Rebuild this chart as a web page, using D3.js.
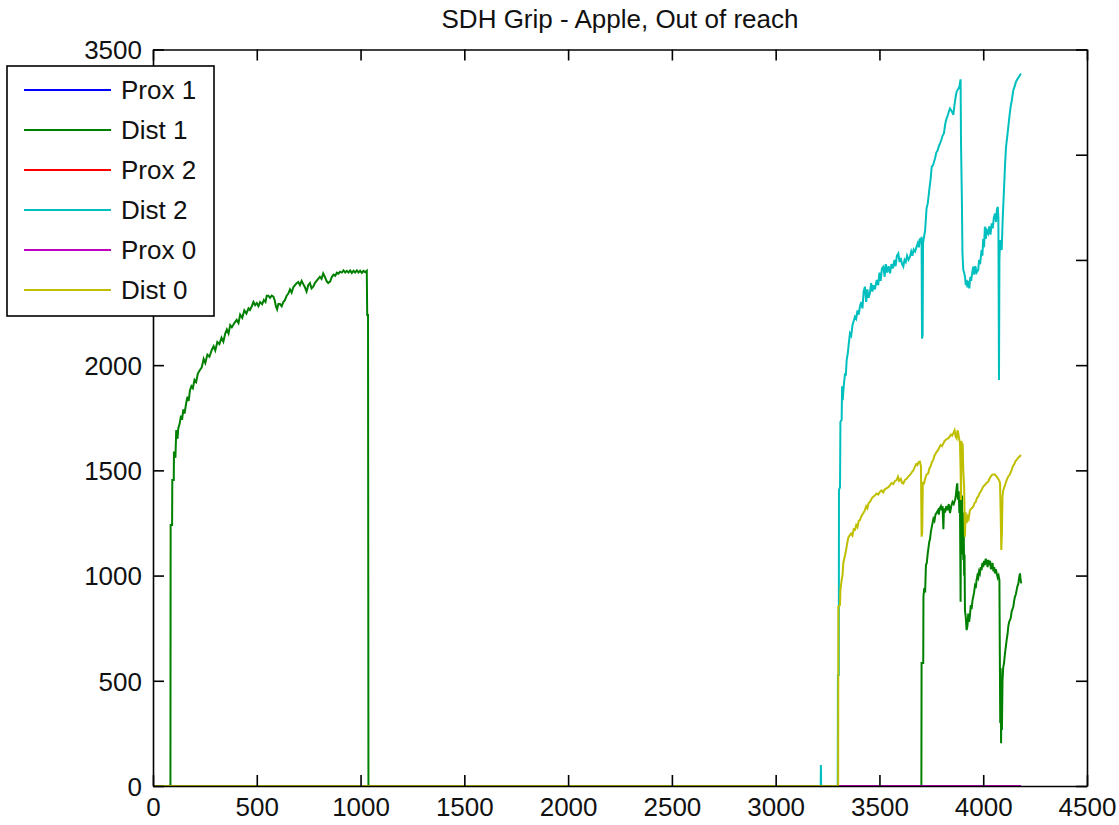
<!DOCTYPE html>
<html>
<head>
<meta charset="utf-8">
<script src="https://cdn.jsdelivr.net/npm/d3@7"></script>
<style>
  html, body { margin: 0; padding: 0; background: #fff; }
  text { font-family: "Liberation Sans", Arial, sans-serif; }
</style>
</head>
<body>
<svg id="chart" width="1119" height="825"></svg>
<script>
const title = "SDH Grip - Apple, Out of reach";
const xTicks = [0, 500, 1000, 1500, 2000, 2500, 3000, 3500, 4000, 4500];
const yTicks = [0, 500, 1000, 1500, 2000, 2500, 3000, 3500];
const seriesNames = ["Prox 1", "Dist 1", "Prox 2", "Dist 2", "Prox 0", "Dist 0"];
const seriesColors = ["#0000ff", "#008000", "#ff0000", "#00bfbf", "#bf00bf", "#bfbf00"];

const prox1 = [[0,0],[4182,0]];
const prox2 = [[0,0],[4182,0]];
const prox0 = [[0,0],[4182,0]];

const dist1 = [[0,0],[84,0],[85,1240],[92,1240],[93,1454],[100,1454],[101,1589],[108,1560],[112,1692],[118,1650],[122,1700],[128,1720],[135,1760],[140,1740],[146,1790],[152,1770],[160,1820],[166,1850],[172,1830],[178,1880],[185,1900],[192,1890],[200,1930],[208,1920],[216,1960],[226,1977],[235,1990],[244,2030],[252,2010],[262,2050],[272,2040],[283,2072],[292,2090],[300,2070],[310,2110],[320,2100],[330,2130],[339,2111],[348,2150],[356,2170],[364,2150],[372,2190],[380,2180],[392,2200],[403,2215],[412,2200],[420,2240],[430,2225],[440,2260],[450,2245],[460,2270],[467,2262],[476,2280],[484,2300],[492,2285],[500,2295],[508,2280],[516,2300],[526,2290],[534,2310],[542,2300],[548,2330],[556,2330],[564,2320],[572,2330],[580,2325],[586,2310],[592,2280],[598,2265],[604,2290],[612,2290],[620,2280],[628,2300],[636,2310],[644,2330],[652,2340],[660,2360],[668,2345],[676,2370],[684,2380],[692,2389],[700,2395],[708,2380],[716,2400],[724,2385],[732,2370],[740,2350],[748,2380],[756,2390],[764,2365],[772,2373],[780,2390],[788,2400],[796,2410],[804,2420],[812,2410],[820,2436],[828,2420],[836,2400],[844,2390],[853,2397],[862,2420],[870,2430],[878,2425],[886,2440],[894,2435],[901,2444],[910,2440],[918,2450],[926,2440],[934,2448],[942,2440],[950,2450],[958,2438],[966,2448],[974,2440],[982,2450],[990,2440],[998,2448],[1006,2438],[1014,2448],[1022,2442],[1030,2449],[1032,2238],[1036,2238],[1038,0],
[3702,0],[3703,584],[3711,584],[3712,900],[3716,940],[3720,920],[3724,1050],[3728,1060],[3732,1100],[3736,1130],[3740,1160],[3744,1175],[3748,1210],[3752,1230],[3756,1250],[3760,1270],[3765,1260],[3770,1290],[3776,1300],[3782,1310],[3786,1290],[3790,1320],[3796,1330],[3800,1310],[3804,1330],[3808,1220],[3811,1320],[3816,1300],[3822,1330],[3828,1310],[3834,1340],[3840,1297],[3846,1330],[3852,1350],[3858,1340],[3864,1359],[3868,1380],[3872,1420],[3875,1438],[3878,1360],[3882,1400],[3885,1297],[3888,1340],[3891,876],[3893,1391],[3896,1100],[3898,1380],[3900,1150],[3902,1300],[3904,1074],[3906,1250],[3908,1000],[3910,1100],[3912,836],[3916,800],[3920,741],[3924,760],[3928,820],[3932,780],[3936,810],[3940,860],[3944,840],[3948,880],[3952,900],[3956,920],[3960,950],[3964,940],[3968,979],[3972,1000],[3976,990],[3980,1020],[3984,1010],[3988,1040],[3992,1026],[3996,1060],[4000,1040],[4004,1070],[4008,1050],[4012,1080],[4017,1066],[4021,1040],[4025,1075],[4029,1050],[4033,1070],[4037,1030],[4041,1042],[4045,1060],[4049,1020],[4053,1040],[4057,1010],[4061,1030],[4065,1010],[4070,990],[4074,1000],[4078,979],[4080,630],[4082,300],[4084,560],[4086,203],[4088,450],[4090,266],[4093,500],[4096,560],[4100,584],[4106,640],[4113,694],[4117,720],[4121,760],[4125,780],[4129,789],[4133,800],[4137,830],[4141,840],[4145,852],[4149,880],[4153,900],[4157,910],[4161,931],[4165,950],[4169,960],[4173,990],[4177,1010],[4180,980],[4183,963]];

const dist2 = [[0,0],[3217,0],[3218,100],[3219,0],[3299,0],[3300,527],[3304,527],[3305,1407],[3310,1420],[3312,1731],[3318,1740],[3320,1900],[3323,1834],[3328,1900],[3334,1961],[3338,1950],[3342,2024],[3348,2060],[3352,2100],[3358,2151],[3364,2140],[3370,2190],[3376,2210],[3382,2230],[3388,2220],[3394,2260],[3400,2240],[3406,2278],[3412,2300],[3418,2270],[3424,2350],[3430,2373],[3436,2300],[3442,2360],[3448,2320],[3454,2342],[3460,2390],[3466,2350],[3472,2380],[3478,2360],[3487,2405],[3494,2380],[3500,2440],[3506,2400],[3512,2460],[3519,2468],[3525,2420],[3531,2480],[3537,2440],[3544,2470],[3551,2436],[3558,2480],[3565,2460],[3572,2500],[3578,2470],[3584,2520],[3591,2531],[3597,2490],[3603,2510],[3609,2480],[3615,2468],[3621,2500],[3627,2490],[3633,2520],[3640,2500],[3647,2515],[3653,2540],[3659,2520],[3665,2550],[3672,2540],[3679,2563],[3685,2580],[3690,2560],[3695,2602],[3700,2580],[3703,2610],[3705,2127],[3708,2140],[3710,2580],[3715,2610],[3720,2640],[3724,2700],[3727,2745],[3733,2770],[3740,2832],[3746,2880],[3752,2943],[3758,2950],[3764,2970],[3768,2983],[3774,3010],[3780,3020],[3786,3040],[3792,3054],[3798,3070],[3804,3090],[3811,3102],[3816,3140],[3820,3160],[3824,3173],[3830,3190],[3836,3210],[3840,3220],[3846,3210],[3852,3200],[3856,3189],[3862,3240],[3868,3280],[3872,3300],[3878,3310],[3885,3323],[3888,3340],[3891,3358],[3893,3054],[3897,2800],[3900,2531],[3904,2452],[3908,2440],[3912,2420],[3916,2380],[3920,2405],[3924,2370],[3928,2400],[3933,2365],[3938,2420],[3942,2400],[3947,2440],[3952,2468],[3957,2430],[3962,2470],[3968,2440],[3976,2452],[3980,2500],[3985,2480],[3992,2547],[3996,2520],[4000,2600],[4004,2560],[4008,2658],[4012,2600],[4018,2640],[4024,2626],[4030,2660],[4035,2620],[4041,2674],[4046,2650],[4051,2700],[4057,2721],[4062,2680],[4066,2740],[4070,2753],[4073,2700],[4076,1929],[4078,2500],[4081,2595],[4085,2560],[4089,2547],[4094,2700],[4100,2832],[4105,2950],[4110,3038],[4115,3080],[4121,3133],[4126,3180],[4132,3228],[4138,3260],[4145,3307],[4150,3320],[4158,3347],[4165,3360],[4172,3370],[4177,3379],[4182,3385]];

const dist0 = [[0,0],[3301,0],[3302,852],[3310,860],[3312,930],[3318,979],[3322,1000],[3326,1060],[3329,1074],[3335,1100],[3342,1137],[3346,1160],[3350,1180],[3358,1193],[3364,1200],[3370,1190],[3376,1220],[3382,1217],[3388,1240],[3394,1230],[3400,1260],[3406,1264],[3412,1280],[3418,1290],[3424,1300],[3430,1311],[3436,1330],[3442,1320],[3448,1345],[3455,1350],[3463,1367],[3470,1375],[3478,1380],[3486,1390],[3494,1385],[3503,1399],[3510,1405],[3518,1395],[3526,1410],[3535,1415],[3543,1420],[3551,1430],[3559,1440],[3567,1435],[3575,1450],[3583,1454],[3589,1470],[3595,1450],[3603,1460],[3609,1440],[3615,1438],[3623,1455],[3631,1460],[3639,1470],[3647,1478],[3655,1490],[3663,1500],[3671,1518],[3677,1530],[3683,1525],[3689,1540],[3695,1541],[3700,1520],[3703,1185],[3706,1200],[3709,1440],[3715,1438],[3720,1460],[3727,1480],[3735,1486],[3741,1510],[3747,1520],[3753,1540],[3759,1549],[3765,1570],[3771,1580],[3777,1590],[3783,1597],[3789,1610],[3795,1620],[3801,1615],[3808,1628],[3814,1640],[3820,1645],[3826,1650],[3832,1652],[3838,1660],[3844,1670],[3850,1665],[3856,1676],[3862,1690],[3867,1660],[3872,1652],[3876,1690],[3880,1676],[3884,1650],[3888,1628],[3891,1500],[3893,1359],[3895,1640],[3898,1620],[3901,1628],[3904,1500],[3908,1420],[3912,1185],[3915,1300],[3920,1249],[3926,1280],[3930,1270],[3936,1311],[3944,1320],[3952,1327],[3958,1345],[3964,1350],[3970,1370],[3976,1375],[3982,1390],[3988,1400],[3994,1410],[4000,1423],[4008,1430],[4016,1440],[4024,1446],[4030,1460],[4036,1470],[4041,1478],[4048,1480],[4056,1480],[4065,1470],[4072,1460],[4078,1450],[4081,1438],[4084,1300],[4087,1122],[4090,1200],[4093,1380],[4097,1407],[4105,1430],[4113,1454],[4120,1470],[4128,1480],[4137,1502],[4143,1520],[4150,1530],[4156,1545],[4161,1549],[4168,1560],[4175,1565],[4182,1573]];

const seriesData = [prox1, dist1, prox2, dist2, prox0, dist0];

const svg = d3.select("#chart");
svg.append("rect").attr("width", 1119).attr("height", 825).attr("fill", "#fff");

const L = 153, R = 1087, T = 49.5, B = 786;
const x = d3.scaleLinear().domain([0, 4500]).range([L, R]);
const y = d3.scaleLinear().domain([0, 3500]).range([B, T]);

const line = d3.line().x(d => x(d[0])).y(d => y(d[1]));

const plot = svg.append("g");
seriesData.forEach((s, i) => {
  plot.append("path").datum(s)
    .attr("d", line)
    .attr("fill", "none")
    .attr("stroke", seriesColors[i])
    .attr("stroke-width", 2)
    .attr("stroke-linejoin", "miter");
});

const FS = "26px";
const tickLen = 11;

// legend box extent (labels hidden behind it are not drawn)
const legBox = {x: 7, y: 66, w: 207, h: 250};

// bottom axis
const gx = svg.append("g").attr("transform", `translate(0,${B})`)
  .call(d3.axisBottom(x).tickValues(xTicks).tickFormat(d3.format("d")).tickSizeInner(-tickLen).tickSizeOuter(0).tickPadding(12));
// top axis
const gxt = svg.append("g").attr("transform", `translate(0,${T})`)
  .call(d3.axisTop(x).tickValues(xTicks).tickFormat("").tickSizeInner(-tickLen).tickSizeOuter(0));
// left axis
const gy = svg.append("g").attr("transform", `translate(${L},0)`)
  .call(d3.axisLeft(y).tickValues(yTicks)
    .tickFormat(d => (y(d) > legBox.y && y(d) < legBox.y + legBox.h) ? "" : d3.format("d")(d))
    .tickSizeInner(-tickLen).tickSizeOuter(0).tickPadding(11));
// right axis
const gyr = svg.append("g").attr("transform", `translate(${R},0)`)
  .call(d3.axisRight(y).tickValues(yTicks).tickFormat("").tickSizeInner(-tickLen).tickSizeOuter(0));

[gx, gxt, gy, gyr].forEach(g => {
  g.select(".domain").attr("stroke", "#000").attr("stroke-width", 1.6);
  g.selectAll(".tick line").attr("stroke", "#000").attr("stroke-width", 1.6);
  g.selectAll("text").attr("fill", "#111").style("font-size", FS)
    .style("font-family", "'Liberation Sans', Arial, sans-serif");
});
gy.selectAll("text").attr("dy", "0.36em");

// title
svg.append("text").attr("x", (L + R) / 2).attr("y", 28)
  .attr("text-anchor", "middle").attr("fill", "#111")
  .style("font-size", FS).text(title);

// legend
const lg = svg.append("g");
lg.append("rect").attr("x", legBox.x).attr("y", legBox.y).attr("width", legBox.w).attr("height", legBox.h)
  .attr("fill", "#fff").attr("stroke", "#000").attr("stroke-width", 1.6);
seriesNames.forEach((n, i) => {
  const cy = 90 + i * 40;
  lg.append("line").attr("x1", 24).attr("x2", 111).attr("y1", cy).attr("y2", cy)
    .attr("stroke", seriesColors[i]).attr("stroke-width", 2);
  lg.append("text").attr("x", 121).attr("y", cy).attr("dy", "0.36em")
    .attr("fill", "#111").style("font-size", FS).text(n);
});
</script>
</body>
</html>
